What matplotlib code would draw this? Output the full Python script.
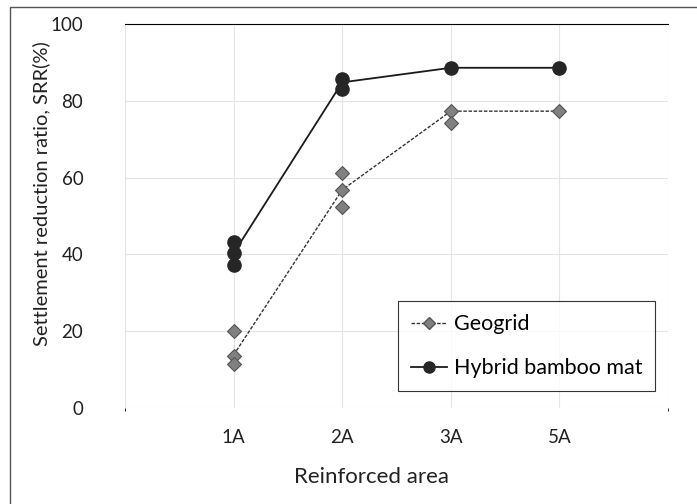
import matplotlib.pyplot as plt
import matplotlib.patches as mpatches

plt.rcParams['font.family'] = ['Lato', 'DejaVu Sans']

# categories on the x axis
categories = ['1A', '2A', '3A', '5A']

# individual test results (x index, SRR %)
geogrid_x = [1, 1, 1, 2, 2, 2, 3, 3, 4]
geogrid_y = [20.1, 13.5, 11.5, 61.1, 56.8, 52.4, 77.3, 74.3, 77.3]
hybrid_x = [1, 1, 1, 2, 2, 3, 4]
hybrid_y = [43.3, 40.3, 37.2, 85.8, 83.0, 88.6, 88.6]

# connecting lines
geogrid_line = [13.8, 56.8, 77.3, 77.3]
hybrid_line = [40.3, 84.8, 88.6, 88.6]
line_x = [1, 2, 3, 4]

fig = plt.figure(figsize=(6.97, 5.04), dpi=100)
ax = fig.add_axes([125/697, 96/504, 543/697, 384/504])

# outer frame of the picture
fig.patches.append(mpatches.Rectangle((10/697, -0.1), 1.0, (497/504) + 0.1,
                                      transform=fig.transFigure, fill=False,
                                      edgecolor='#555555', linewidth=1.0))

ax.plot(line_x, geogrid_line, color='#333333', linestyle=(0, (2.5, 1.2)), linewidth=1.0, zorder=2)
ax.plot(line_x, hybrid_line, color='#1a1a1a', linewidth=1.3, zorder=2)
ax.plot(geogrid_x, geogrid_y, linestyle='none', marker='D', markersize=7,
        markerfacecolor='#808080', markeredgecolor='#555555', markeredgewidth=0.8, zorder=3)
ax.plot(hybrid_x, hybrid_y, linestyle='none', marker='o', markersize=9.5,
        markerfacecolor='#262626', markeredgecolor='#262626', zorder=3)

# legend handles
h1, = ax.plot([], [], color='#333333', linestyle=(0, (2.5, 1.2)), linewidth=1.0, marker='D',
              markersize=6, markerfacecolor='#808080', markeredgecolor='#555555')
h2, = ax.plot([], [], color='#1a1a1a', linewidth=1.3, marker='o', markersize=8,
              markerfacecolor='#262626', markeredgecolor='#262626')
leg = ax.legend([h1, h2], ['Geogrid', 'Hybrid bamboo mat'], loc='lower right',
                bbox_to_anchor=(655/697, 113/504), bbox_transform=fig.transFigure,
                fontsize=15.5, frameon=True, fancybox=False, handlelength=1.7,
                handletextpad=0.3, labelspacing=1.1, borderpad=0.6, borderaxespad=0)
leg.get_frame().set_edgecolor('black')
leg.get_frame().set_linewidth(0.8)

ax.set_xlim(0, 5)
ax.set_ylim(0, 100)
ax.set_xticks(line_x)
ax.set_xticklabels(categories)
ax.set_yticks([0, 20, 40, 60, 80, 100])
ax.tick_params(length=0, labelsize=13.5, colors='#222222')
ax.tick_params(axis='x', pad=15)
ax.tick_params(axis='y', pad=30)

ax.set_xticks([0, 1, 2, 3, 4, 5], minor=True)
ax.grid(True, which='minor', axis='x', color='#e4e4e4', linewidth=0.8)
ax.grid(True, which='major', axis='both', color='#e4e4e4', linewidth=0.8)
ax.set_axisbelow(True)

for side in ['left', 'right', 'bottom']:
    ax.spines[side].set_visible(False)
ax.spines['top'].set_color('black')
ax.spines['top'].set_linewidth(0.8)

ax.set_xlabel('Reinforced area', fontsize=16, color='#222222')
ax.set_ylabel('Settlement reduction ratio, SRR(%)', fontsize=14.5, color='#222222')
ax.xaxis.set_label_coords((372 - 125) / 543, -(477 - 408) / 384)
ax.yaxis.set_label_coords(-(125 - 41) / 543, (408 - 194) / 384)
ax.xaxis.label.set_va('center')
ax.yaxis.label.set_va('center')

plt.savefig('out.png', dpi=100)
